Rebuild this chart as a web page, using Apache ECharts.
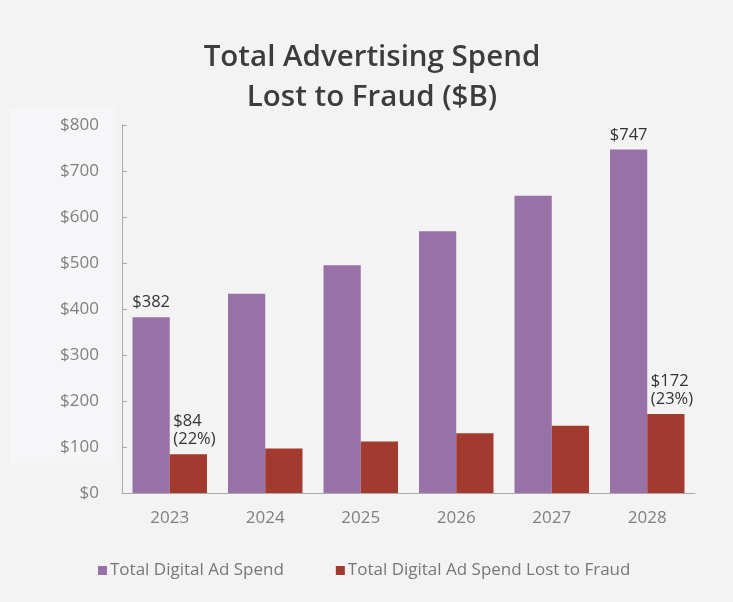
<!DOCTYPE html>
<html><head><meta charset="utf-8">
<script src="https://cdn.jsdelivr.net/npm/echarts@6/dist/echarts.min.js"></script>
<style>html,body{margin:0;padding:0;background:#f3f3f3;}#c{width:733px;height:602px;}</style>
</head><body><div id="c"></div>
<script>
const categories = ['2023','2024','2025','2026','2027','2028'];
const totalSpend = [382, 433, 495, 569, 646, 747];
const fraudSpend = [84, 97, 112, 130, 146, 172];
const totalLabels = ['$382', '', '', '', '', '$747'];
const fraudLabels = ['$84\n(22%)', '', '', '', '', '$172\n(23%)'];
const yTicks = [0, 100, 200, 300, 400, 500, 600, 700, 800];

const chart = echarts.init(document.getElementById('c'), null, {renderer:'canvas'});
const font = '"Open Sans", "Noto Sans", sans-serif';
function mk(vals, labels, extra) {
  return vals.map((v, i) => ({
    value: v,
    label: labels[i] ? Object.assign({show: true, formatter: labels[i]}, extra) : {show: false}
  }));
}
chart.setOption({
  backgroundColor: '#f3f3f3',
  textStyle: {fontFamily: font},
  graphic: [{type:'rect', left: 10, top: 108, shape:{width:105, height:355}, style:{fill:'#f6f5f8'}, z:-10}],
  title: {
    text: 'Total Advertising Spend\nLost to Fraud ($B)',
    left: 367, top: 33, textAlign: 'center',
    textStyle: {fontFamily: font, fontSize: 29.5, fontWeight: 600, color: '#3c3c3c', lineHeight: 40}
  },
  legend: {
    left: 93, top: 557, itemWidth: 9, itemHeight: 9, itemGap: 52, icon: 'rect',
    textStyle: {fontFamily: font, fontSize: 17, color: '#777', padding: [0,0,0,-2]}
  },
  grid: {left: 122, right: 38, top: 125, bottom: 109},
  xAxis: {
    type: 'category', data: categories,
    axisLine: {lineStyle: {color: '#aaa'}},
    axisTick: {inside: true, length: 5, lineStyle: {color: '#aaa'}},
    axisLabel: {fontSize: 17, color: '#808080', margin: 17, fontFamily: font}
  },
  yAxis: {
    type: 'value', min: yTicks[0], max: yTicks[yTicks.length-1], interval: 100,
    splitLine: {show: false},
    axisLine: {show: true, lineStyle: {color: '#aaa'}},
    axisTick: {show: true, inside: true, length: 5, lineStyle: {color: '#aaa'}},
    axisLabel: {fontSize: 17, color: '#808080', margin: 23, fontFamily: font, formatter: v => '$' + v}
  },
  series: [
    {name: 'Total Digital Ad Spend', type: 'bar', barGap: '0%', barCategoryGap: '22%',
     itemStyle: {color: '#9872a6'},
     label: {position: 'top', fontSize: 16.5, color: '#333', distance: 6, fontFamily: font},
     data: mk(totalSpend, totalLabels, {position: 'top'})},
    {name: 'Total Digital Ad Spend Lost to Fraud', type: 'bar',
     itemStyle: {color: '#a33a2f'},
     label: {position: 'top', fontSize: 16.5, color: '#333', distance: 6, lineHeight: 18, align: 'left', fontFamily: font},
     data: mk(fraudSpend, fraudLabels, {position: 'top', offset: [-15, 0]})}
  ]
});
</script></body></html>
